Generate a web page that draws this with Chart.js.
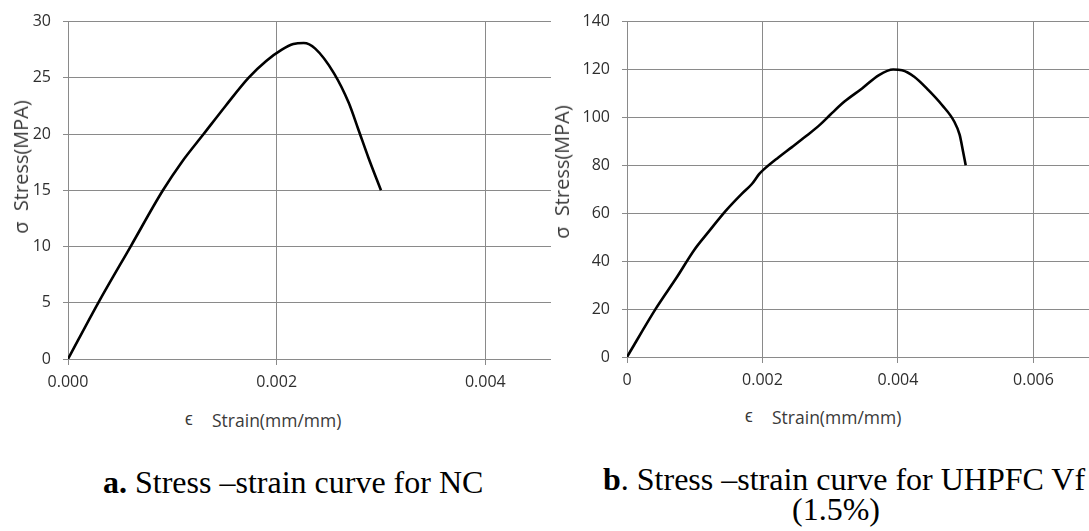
<!DOCTYPE html>
<html><head><meta charset="utf-8">
<script src="https://cdn.jsdelivr.net/npm/chart.js@4"></script>
<style>
html,body{margin:0;padding:0;background:#fff;width:1089px;height:531px;overflow:hidden;position:relative;}
.c{position:absolute;}
.t{position:absolute;font-family:"Open Sans",sans-serif;color:#3a3a3a;white-space:pre;line-height:20px;}
.yt{transform:translate(-50%,-50%) rotate(-90deg);font-size:20px;}
.xt{font-size:17.5px;}
.cap{position:absolute;font-family:"Liberation Serif","Times New Roman",serif;font-size:32px;line-height:32px;color:#000;white-space:pre;}
</style></head>
<body>
<div class="c" style="left:0;top:0;width:551px;height:400px"><canvas id="a"></canvas></div>
<div class="c" style="left:560px;top:0;width:529px;height:400px"><canvas id="b"></canvas></div>
<div class="t yt" style="left:21px;top:167px">σ  Stress(MPA)</div>
<div class="t yt" style="left:562px;top:172px">σ  Stress(MPA)</div>
<div class="t xt" style="left:185px;top:408px">ϵ</div>
<div class="t xt" style="left:212px;top:410px">Strain(mm/mm)</div>
<div class="t xt" style="left:745px;top:405px">ϵ</div>
<div class="t xt" style="left:772px;top:407px">Strain(mm/mm)</div>
<div class="cap" style="left:103px;top:466px"><b>a.</b> Stress –strain curve for NC</div>
<div class="cap" style="left:603px;top:463px"><b>b</b>. Stress –strain curve for UHPFC Vf</div>
<div class="cap" style="left:736px;top:493px;width:200px;text-align:center">(1.5%)</div>
<script>
// NC curve
const ncStrain = [0, 0.00029, 0.0006, 0.00091, 0.00109, 0.0013, 0.00151, 0.00173, 0.0019, 0.00205, 0.00216, 0.00226, 0.00237, 0.00255, 0.00269, 0.00278, 0.00288, 0.003];
const ncStress = [0, 5, 10, 15, 17.5, 20, 22.5, 25, 26.5, 27.5, 28, 28.1, 27.6, 25.4, 22.8, 20.5, 17.9, 15];
// UHPFC Vf 1.5% curve
const uhStrain = [0, 0.00043, 0.00074, 0.00099, 0.0012, 0.00146, 0.00169, 0.00184, 0.00195, 0.00202, 0.00223, 0.00244, 0.00264, 0.00285, 0.003, 0.00321, 0.00347, 0.00372, 0.00393, 0.00406, 0.00424, 0.00445, 0.00465, 0.00483, 0.00491, 0.00496, 0.005];
const uhStress = [0, 20.4, 33.5, 44.6, 52.1, 61.1, 68, 72.1, 76.3, 78.3, 83.2, 87.7, 92.1, 97, 101.1, 106.6, 112.1, 117.7, 120, 119.7, 117, 111.4, 105.2, 98.3, 92.8, 85.9, 80];
// axis ranges / ticks
const ncXMax = 0.00463, ncYMax = 30, ncYStep = 5;
const uhXMax = 0.00682, uhYMax = 140, uhYStep = 20;
const xStep = 0.002;

const gridCol = '#8a8a8a';
const tickFont = {family: 'Open Sans', size: 16};

function makeChart(id, xs, ys, xMax, yMax, yStep, yWidth, xHeight, padTop, xFmt) {
  const pts = xs.map((x, i) => ({x: x, y: ys[i]}));
  return new Chart(document.getElementById(id), {
    type: 'scatter',
    data: {datasets: [{data: pts, showLine: true, borderColor: '#000', borderWidth: 2.6,
      pointRadius: 0, cubicInterpolationMode: 'monotone', fill: false}]},
    options: {
      responsive: true, maintainAspectRatio: false, animation: false,
      layout: {padding: {top: padTop, left: 0, right: 0, bottom: 0}},
      plugins: {legend: {display: false}, tooltip: {enabled: false}},
      scales: {
        x: {type: 'linear', min: 0, max: xMax,
          ticks: {stepSize: xStep, includeBounds: false, color: '#2e2e2e', font: tickFont, padding: 8, maxRotation: 0, callback: xFmt},
          grid: {color: gridCol, lineWidth: 1, tickLength: 6, drawTicks: true},
          border: {color: gridCol, width: 1},
          afterFit: s => { s.height = xHeight; }},
        y: {type: 'linear', min: 0, max: yMax,
          ticks: {stepSize: yStep, color: '#2e2e2e', font: tickFont, padding: 12},
          grid: {color: gridCol, lineWidth: 1, tickLength: 5, drawTicks: true},
          border: {color: gridCol, width: 1},
          afterFit: s => { s.width = yWidth; }}
      }
    }
  });
}
makeChart('a', ncStrain, ncStress, ncXMax, ncYMax, ncYStep, 68, 41, 14, v => v.toFixed(3));
makeChart('b', uhStrain, uhStress, uhXMax, uhYMax, uhYStep, 67, 43, 19, v => v === 0 ? '0' : v.toFixed(3));
</script>
</body></html>
